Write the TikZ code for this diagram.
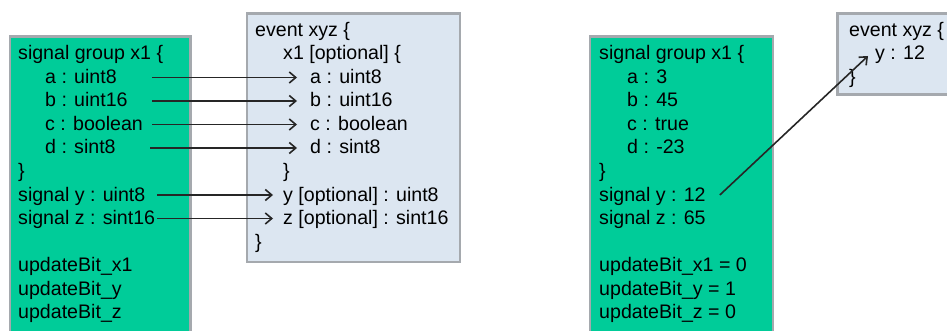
\documentclass[tikz,border=0pt]{standalone}
\usepackage{fontspec}
\setmainfont{Liberation Sans}
\usetikzlibrary{arrows.meta}
\definecolor{sigGreen}{HTML}{00CC99}
\definecolor{evtBlue}{HTML}{DCE6F1}
\definecolor{boxGray}{HTML}{A5A9AE}

\begin{document}
\begin{tikzpicture}[x=1pt, y=-1pt,
      >={Straight Barb[length=6.5pt, width=11pt]},
      grp/.style={draw=boxGray, line width=2.5pt, fill=sigGreen,
                  anchor=north west, inner sep=0pt},
      evt/.style={draw=boxGray, line width=2.5pt, fill=evtBlue,
                  anchor=north west, inner sep=0pt},
      ln/.style={anchor=base west, inner sep=0pt, text height=15pt,
                 text depth=3pt, font=\fontsize{19.6pt}{23.5pt}\selectfont},
      lnk/.style={->, line width=1.6pt, draw=black!85}]
    \useasboundingbox (0,0) rectangle (947,331);
    \clip (0,0) rectangle (947,331);

    % boxes
    \node[grp, minimum width=180.5pt, minimum height=310pt] (grp1) at (8.5,35.5) {};
    \node[evt, minimum width=213pt, minimum height=248pt] (evt1) at (245.5,12.5) {};
    \node[grp, minimum width=183pt, minimum height=310pt] (grp2) at (588.5,35.5) {};
    \node[evt, minimum width=150pt, minimum height=81pt] (evt2) at (836,12.5) {};

    % left: signal declarations
    \node[ln] (gx1) at (18,60)    {signal group x1 \{};
    \node[ln] (ga)  at (45,83.5)  {a : uint8};
    \node[ln] (gb)  at (45,107)   {b : uint16};
    \node[ln] (gc)  at (45,130.5) {c : boolean};
    \node[ln] (gd)  at (45,154)   {d : sint8};
    \node[ln] (gend) at (18,177.5) {\}};
    \node[ln] (sy)  at (18,201)   {signal y : uint8};
    \node[ln] (sz)  at (18,224.5) {signal z : sint16};
    \node[ln] (ux1) at (18,271.5) {updateBit\_x1};
    \node[ln] (uy)  at (18,295)   {updateBit\_y};
    \node[ln] (uz)  at (18,318.5) {updateBit\_z};

    % event definition
    \node[ln] (ev)   at (255,36.5)  {event xyz \{};
    \node[ln] (ex1)  at (283,60)    {x1 [optional] \{};
    \node[ln] (ea)   at (310,83.5)  {a : uint8};
    \node[ln] (eb)   at (310,107)   {b : uint16};
    \node[ln] (ec)   at (310,130.5) {c : boolean};
    \node[ln] (ed)   at (310,154)   {d : sint8};
    \node[ln] (eend) at (283,177.5) {\}};
    \node[ln] (ey)   at (283,201)   {y [optional] : uint8};
    \node[ln] (ez)   at (283,224.5) {z [optional] : sint16};
    \node[ln] (evend) at (255,248)  {\}};

    % right: signal values
    \node[ln] (gx1v) at (599,60)    {signal group x1 \{};
    \node[ln] (gav)  at (627,83.5)  {a : 3};
    \node[ln] (gbv)  at (627,107)   {b : 45};
    \node[ln] (gcv)  at (627,130.5) {c : true};
    \node[ln] (gdv)  at (627,154)   {d : -23};
    \node[ln] (gendv) at (599,177.5) {\}};
    \node[ln] (syv)  at (599,201)   {signal y : 12};
    \node[ln] (szv)  at (599,224.5) {signal z : 65};
    \node[ln] (ux1v) at (599,271.5) {updateBit\_x1 = 0};
    \node[ln] (uyv)  at (599,295)   {updateBit\_y = 1};
    \node[ln] (uzv)  at (599,318.5) {updateBit\_z = 0};

    % event instance
    \node[ln] (ev2)   at (849,36.5) {event xyz \{};
    \node[ln] (ey2)   at (875,60)   {y : 12};
    \node[ln] (evend2) at (849,83.5) {\}};

    % mapping
    \coordinate (sa) at (152,0);
    \coordinate (sd) at (150,0);
    \coordinate (ss) at (157,0);
    \draw[lnk] (ga -| sa) -- ([xshift=-13pt]ea.west);
    \draw[lnk] (gb -| sa) -- ([xshift=-13pt]eb.west);
    \draw[lnk] (gc -| sa) -- ([xshift=-13pt]ec.west);
    \draw[lnk] (gd -| sd) -- ([xshift=-13pt]ed.west);
    \draw[lnk] (sy -| ss) -- ([xshift=-10pt]ey.west);
    \draw[lnk] (sz -| ss) -- ([xshift=-10pt]ez.west);
    \draw[lnk] ([xshift=14pt]syv.east) -- ([xshift=-7pt, yshift=-2pt]ey2.west);
  \end{tikzpicture}
\end{document}
